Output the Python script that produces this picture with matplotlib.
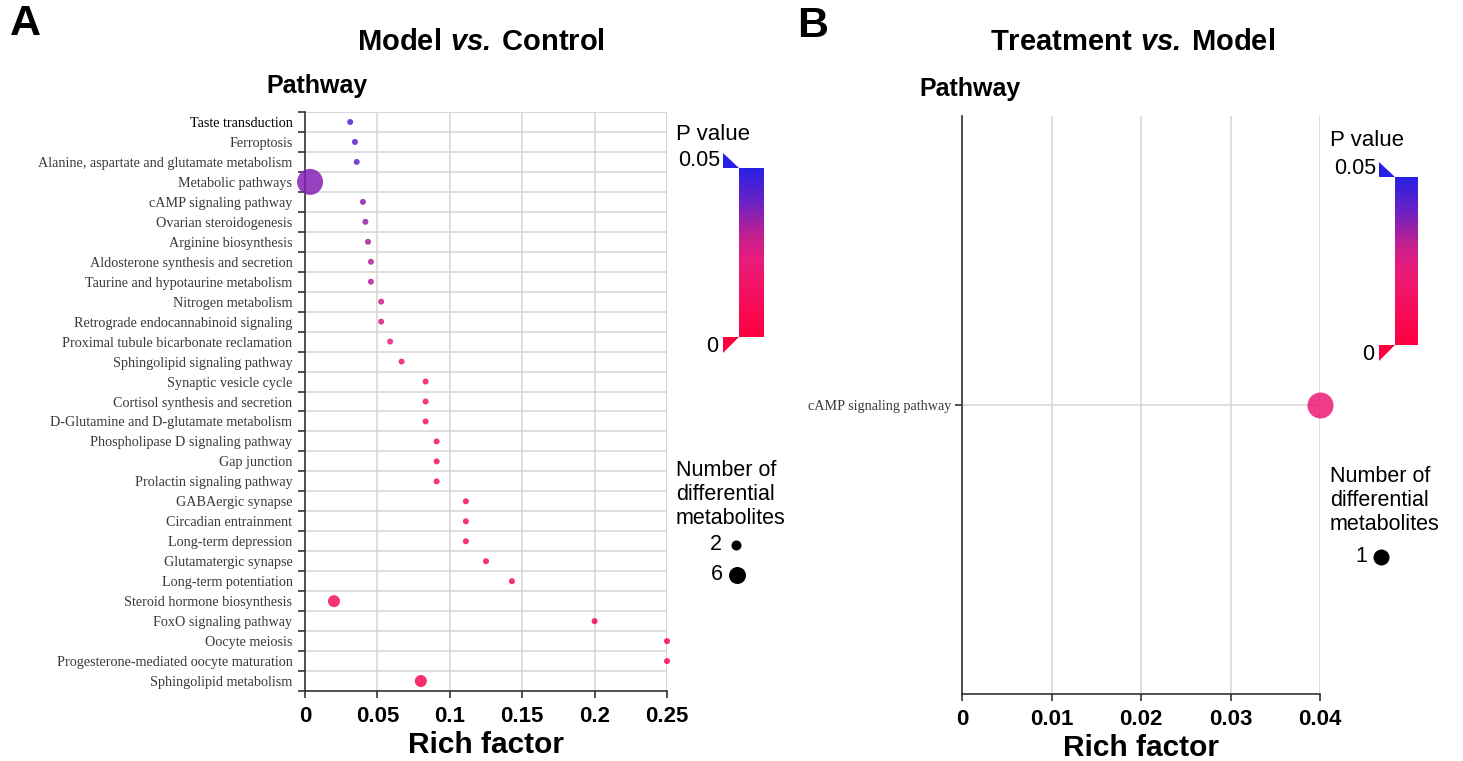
import numpy as np
import matplotlib
matplotlib.use("Agg")
import matplotlib.pyplot as plt
from matplotlib.colors import LinearSegmentedColormap, Normalize
from matplotlib.patches import Polygon

# ── Data ─────────────────────────────────────────────────────────────────────
pathways_a = [
    "Taste transduction", "Ferroptosis", "Alanine, aspartate and glutamate metabolism",
    "Metabolic pathways", "cAMP signaling pathway", "Ovarian steroidogenesis",
    "Arginine biosynthesis", "Aldosterone synthesis and secretion",
    "Taurine and hypotaurine metabolism", "Nitrogen metabolism",
    "Retrograde endocannabinoid signaling", "Proximal tubule bicarbonate reclamation",
    "Sphingolipid signaling pathway", "Synaptic vesicle cycle",
    "Cortisol synthesis and secretion", "D-Glutamine and D-glutamate metabolism",
    "Phospholipase D signaling pathway", "Gap junction", "Prolactin signaling pathway",
    "GABAergic synapse", "Circadian entrainment", "Long-term depression",
    "Glutamatergic synapse", "Long-term potentiation", "Steroid hormone biosynthesis",
    "FoxO signaling pathway", "Oocyte meiosis", "Progesterone-mediated oocyte maturation",
    "Sphingolipid metabolism",
]
rich_a = [0.0312, 0.0345, 0.0357, 0.0035, 0.0400, 0.0417, 0.0435, 0.0455, 0.0455,
          0.0526, 0.0526, 0.0588, 0.0667, 0.0833, 0.0833, 0.0833, 0.0909, 0.0909,
          0.0909, 0.1111, 0.1111, 0.1111, 0.1250, 0.1429, 0.0200, 0.2000, 0.2500,
          0.2500, 0.0800]
pval_a = [0.044, 0.043, 0.042, 0.037, 0.036, 0.035, 0.033, 0.032, 0.032,
          0.027, 0.027, 0.024, 0.021, 0.016, 0.016, 0.016, 0.014, 0.014,
          0.014, 0.011, 0.011, 0.011, 0.009, 0.008, 0.012, 0.006, 0.005,
          0.005, 0.008]
count_a = [1, 1, 1, 6, 1, 1, 1, 1, 1, 1, 1, 1, 1, 1, 1, 1, 1, 1, 1, 1, 1, 1, 1, 1,
           2, 1, 1, 1, 2]

pathways_b = ["cAMP signaling pathway"]
rich_b = [0.04]
pval_b = [0.021]
count_b = [1]

xticks_a = [0, 0.05, 0.1, 0.15, 0.2, 0.25]
xticklabels_a = ["0", "0.05", "0.1", "0.15", "0.2", "0.25"]
xticks_b = [0, 0.01, 0.02, 0.03, 0.04]
xticklabels_b = ["0", "0.01", "0.02", "0.03", "0.04"]

# ── Style ────────────────────────────────────────────────────────────────────
SANS = "Liberation Sans"
SERIF = "Liberation Serif"
GRID = "#d4d4d4"
SPINE = "#333333"
plt.rcParams["mathtext.fontset"] = "custom"
plt.rcParams["mathtext.rm"] = SANS
plt.rcParams["mathtext.bf"] = f"{SANS}:bold"
plt.rcParams["mathtext.bfit"] = f"{SANS}:italic:bold"

cmap = LinearSegmentedColormap.from_list("pv", [
    (0.00, "#ff0040"), (0.25, "#f5105f"), (0.45, "#ea1c7a"),
    (0.60, "#c42090"), (0.80, "#6a22c4"), (1.00, "#2820e6")])
norm = Normalize(0, 0.05)

W, H = 1463, 761
fig = plt.figure(figsize=(W / 100, H / 100), dpi=100, facecolor="white")


def rect(l, t, r, b):
    return [l / W, 1 - b / H, (r - l) / W, (b - t) / H]


def dot_area(d_px):
    return (d_px * 0.72) ** 2


def style_axes(ax, xticks, xlabels):
    ax.set_xticks(xticks)
    ax.set_xticklabels(xlabels, fontfamily=SANS, fontweight="bold", fontsize=16)
    ax.tick_params(axis="x", direction="out", length=5, width=1.2, color=SPINE, pad=6)
    ax.xaxis.grid(True, color=GRID, linewidth=1.1)
    ax.spines[["top", "right"]].set_visible(False)
    for s in ("left", "bottom"):
        ax.spines[s].set_color(SPINE)
        ax.spines[s].set_linewidth(1.2)
    ax.set_axisbelow(True)
    ax.set_xlabel("Rich factor", fontfamily=SANS, fontweight="bold", fontsize=21.5, labelpad=3)


# ── Panel A ──────────────────────────────────────────────────────────────────
axA = fig.add_axes(rect(305, 112, 667, 691))
n = len(pathways_a)
ya = n - np.arange(n) - 0.5
axA.set_xlim(0, 0.25)
axA.set_ylim(0, n)
style_axes(axA, xticks_a, xticklabels_a)
axA.set_yticks(np.arange(n + 1))
axA.set_yticklabels([])
axA.set_yticks(ya, minor=True)
axA.set_yticklabels(pathways_a, minor=True, fontfamily=SERIF, fontsize=10.2, color="#3a3a3a")
axA.get_yticklabels(minor=True)[0].set_color("black")
axA.tick_params(axis="y", which="major", direction="out", length=5, width=1.2, color=SPINE)
axA.tick_params(axis="y", which="minor", length=0, pad=9)
axA.yaxis.grid(True, which="major", color=GRID, linewidth=1.1)
axA.axhline(n, color=GRID, linewidth=1.1, zorder=0.5)
axA.axvline(0.25, color=GRID, linewidth=1.1, zorder=0.5)
size_a = dot_area(np.interp(count_a, [1, 2, 6], [6, 12, 26]))
axA.scatter(rich_a, ya, s=size_a, c=pval_a, cmap=cmap, norm=norm, alpha=0.85,
            linewidths=0, zorder=5, clip_on=False)

# ── Panel B ──────────────────────────────────────────────────────────────────
axB = fig.add_axes(rect(962, 116, 1320, 694))
axB.set_xlim(0, 0.04)
axB.set_ylim(0, 1)
style_axes(axB, xticks_b, xticklabels_b)
axB.set_yticks([0.5])
axB.set_yticklabels(pathways_b, fontfamily=SERIF, fontsize=10.2, color="#3a3a3a")
axB.tick_params(axis="y", direction="out", length=5, width=1.2, color=SPINE, pad=3)
axB.yaxis.grid(True, color=GRID, linewidth=1.1)
axB.scatter(rich_b, [0.5], s=dot_area(26), c=pval_b, cmap=cmap, norm=norm, alpha=0.85,
            linewidths=0, zorder=5, clip_on=False)

# ── Overlay: titles and legends (pixel coordinates) ──────────────────────────
ov = fig.add_axes([0, 0, 1, 1])
ov.set_xlim(0, W)
ov.set_ylim(H, 0)
ov.axis("off")
ov.patch.set_visible(False)

ov.text(10, 24, "A", fontfamily=SANS, fontweight="bold", fontsize=31, va="center")
ov.text(797, 26, "B", fontfamily=SANS, fontweight="bold", fontsize=31, va="center")
ov.text(481, 42, r"$\mathbf{Model}\ \mathbfit{vs.}\,\mathbf{Control}$",
        fontsize=21, ha="center", va="center")
ov.text(1133, 42, r"$\mathbf{Treatment}\ \mathbfit{vs.}\,\mathbf{Model}$",
        fontsize=21, ha="center", va="center")
ov.text(317, 86, "Pathway", fontfamily=SANS, fontweight="bold", fontsize=18,
        ha="center", va="center")
ov.text(970, 89, "Pathway", fontfamily=SANS, fontweight="bold", fontsize=18,
        ha="center", va="center")

grad = np.linspace(0, 1, 256)[:, None]


def pvalue_legend(x0, top, bar_l, bar_r, bar_t, bar_b):
    ov.text(x0, top, "P value", fontfamily=SANS, fontsize=16, va="center")
    ov.text(bar_l - 19, bar_t - 8, "0.05", fontfamily=SANS, fontsize=15.5,
            ha="right", va="center")
    ov.text(bar_l - 21, bar_b + 10, "0", fontfamily=SANS, fontsize=15.5,
            ha="right", va="center")
    ov.imshow(grad, cmap=cmap, origin="lower", aspect="auto",
              extent=(bar_l, bar_r, bar_b, bar_t), zorder=2)
    tl = bar_l - 16
    ov.add_patch(Polygon([(tl, bar_t - 15), (tl, bar_t), (bar_l, bar_t)],
                         closed=True, color=cmap(1.0), linewidth=0))
    ov.add_patch(Polygon([(tl, bar_b), (bar_l, bar_b), (tl, bar_b + 16)],
                         closed=True, color=cmap(0.0), linewidth=0))


def count_legend(x0, top, entries):
    for k, line in enumerate(["Number of", "differential", "metabolites"]):
        ov.text(x0, top + 24 * k, line, fontfamily=SANS, fontsize=15.5, va="center")
    for lab, y, xd, d in entries:
        ov.text(xd - 14, y, lab, fontfamily=SANS, fontsize=15.5, ha="right", va="center")
        ov.scatter([xd], [y], s=dot_area(d), color="black", linewidths=0)


pvalue_legend(676, 135, 739, 764, 168, 337)
count_legend(676, 470, [("2", 545, 736, 10), ("6", 575, 737, 17)])
pvalue_legend(1330, 141, 1395, 1418, 177, 345)
count_legend(1330, 476, [("1", 557, 1381, 16)])

ov.set_xlim(0, W)
ov.set_ylim(H, 0)

fig.savefig("out.png", dpi=100, facecolor="white")
